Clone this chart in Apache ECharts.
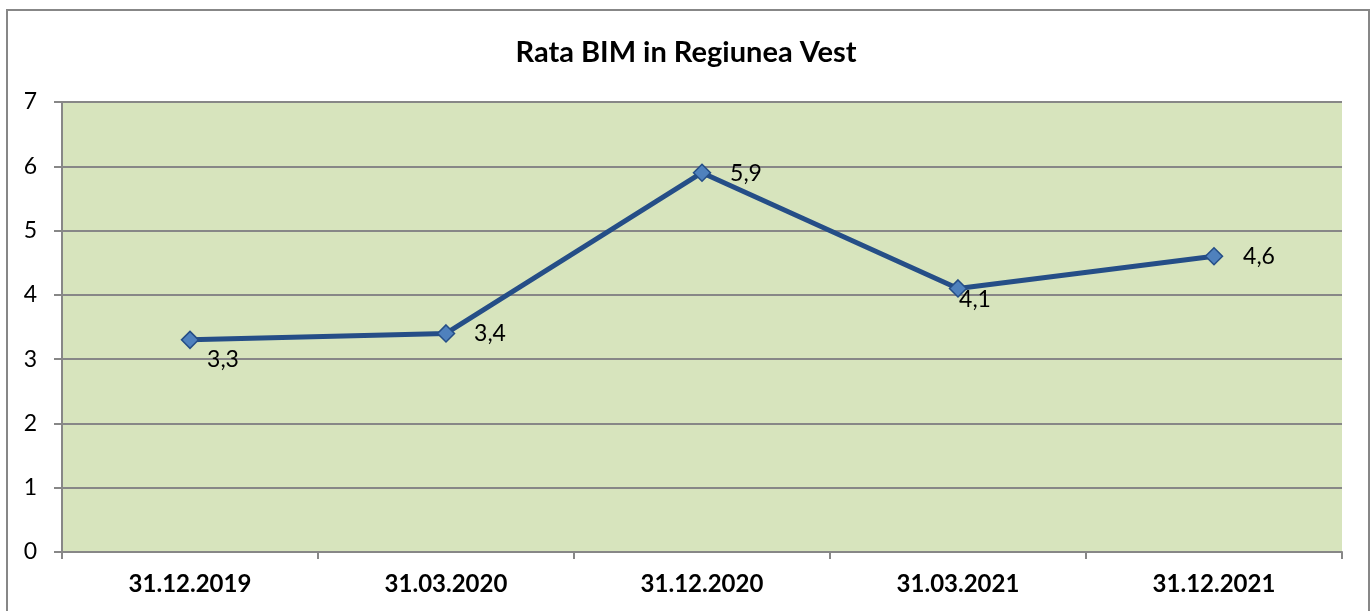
<!DOCTYPE html>
<html>
<head>
<meta charset="utf-8">
<script src="https://cdn.jsdelivr.net/npm/echarts@6/dist/echarts.min.js"></script>
<style>
	html, body { margin: 0; padding: 0; background: #fff; }
	#chart { width: 1372px; height: 611px; }
</style>
</head>
<body>
<div id="chart"></div>
<script>
// date de referinta
const categories = ["31.12.2019", "31.03.2020", "31.12.2020", "31.03.2021", "31.12.2021"];
const values = [3.3, 3.4, 5.9, 4.1, 4.6];
// deplasarea etichetelor fata de punct
const labelOffsets = [[33, 20], [44, 0], [44, 1], [17, 11], [45, 0]];

const chart = echarts.init(document.getElementById("chart"));
const font = "Lato, 'Noto Sans', sans-serif";

let option = {
	animation: false,
	textStyle: { fontFamily: font },
	title: {
		text: "Rata BIM in Regiunea Vest",
		left: "center",
		top: 33,
		textStyle: { fontSize: 29, fontWeight: "bold", color: "#000", fontFamily: font },
	},
	graphic: [
		{
			type: "rect",
			shape: { x: 7, y: 10, width: 1362, height: 640 },
			style: { fill: "none", stroke: "#878787", lineWidth: 2 },
			silent: true,
		},
	],
	grid: {
		left: 62,
		right: 30,
		top: 102,
		bottom: 59,
		show: true,
		backgroundColor: "#D7E4BD",
		borderWidth: 0,
	},
	xAxis: {
		type: "category",
		data: categories,
		boundaryGap: true,
		axisLine: { show: true, lineStyle: { color: "#878787", width: 2 } },
		axisTick: { show: true, length: 7, lineStyle: { color: "#878787", width: 2 } },
		axisLabel: { fontSize: 24, fontWeight: "bold", color: "#000", margin: 20, fontFamily: font },
	},
	yAxis: {
		type: "value",
		min: 0,
		max: 7,
		interval: 1,
		axisLine: { show: true, lineStyle: { color: "#878787", width: 2 } },
		axisTick: { show: true, length: 8, lineStyle: { color: "#878787", width: 2 } },
		axisLabel: { fontSize: 23, color: "#000", margin: 25, fontFamily: font },
		splitLine: { show: true, lineStyle: { color: "#878787", width: 2 } },
	},
	series: [
		{
			type: "line",
			symbol: "diamond",
			symbolSize: 17,
			lineStyle: { color: "#254E87", width: 5 },
			itemStyle: { color: "#4F81BD", borderColor: "#254E87", borderWidth: 1.5 },
			data: values.map((v, i) => ({
				value: v,
				label: {
					show: true,
					position: "inside",
					offset: labelOffsets[i],
					fontSize: 23,
					color: "#000",
					fontFamily: font,
					formatter: (p) => String(p.value).replace(".", ","),
				},
			})),
		},
	],
};
chart.setOption(option, true);
</script>
</body>
</html>
